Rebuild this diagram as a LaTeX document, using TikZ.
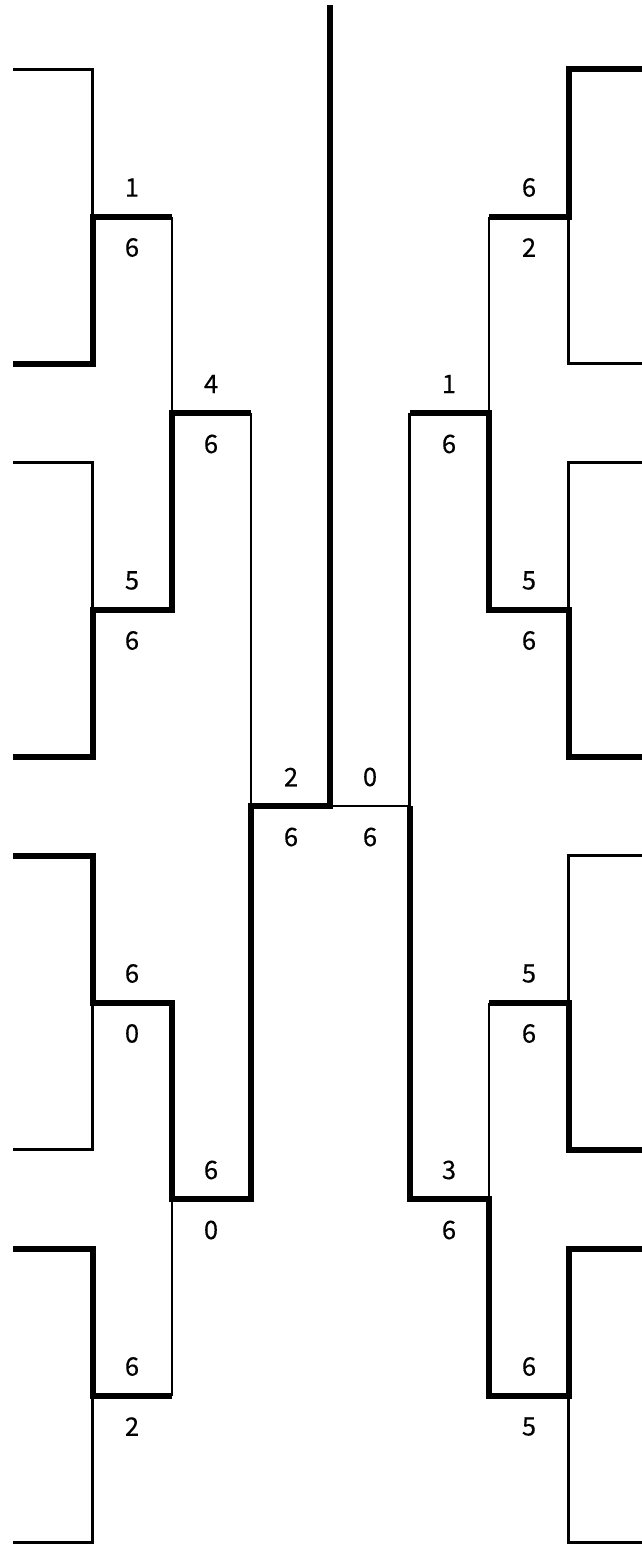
\documentclass[tikz,border=0pt]{standalone}
\usepackage{fontspec}
\newfontfamily\labfont[FakeBold=0.3]{Noto Sans CJK JP}
\begin{document}
\begin{tikzpicture}[x=1pt,y=-1pt,
  thinl/.style={line width=2.4pt},
  thickl/.style={line width=6pt},
  lbl/.style={font=\labfont\fontsize{25.5}{25.5}\selectfont, inner sep=0pt}]
\useasboundingbox (0,0) rectangle (642,1544);
% first-round coordinates
\foreach \i/\t in {1/69.5,2/462.5,3/855.5,4/1248.5} {
  \coordinate (L\i t) at (13,\t);
  \coordinate (L\i tc) at (92.5,\t);
  \coordinate (L\i j) at (92.5,\t+147);
  \coordinate (L\i r) at (172,\t+147);
  \coordinate (L\i bc) at (92.5,\t+294);
  \coordinate (L\i b) at (13,\t+294);
  \coordinate (R\i t) at (642,\t);
  \coordinate (R\i tc) at (568.5,\t);
  \coordinate (R\i j) at (568.5,\t+147);
  \coordinate (R\i r) at (489,\t+147);
  \coordinate (R\i bc) at (568.5,\t+294);
  \coordinate (R\i b) at (642,\t+294);
}
\coordinate (LUk) at (172,413);   \coordinate (LUr) at (251,413);
\coordinate (LLk) at (172,1199);  \coordinate (LLr) at (251,1199);
\coordinate (RUk) at (489,413);   \coordinate (RUr) at (409.5,413);
\coordinate (RLk) at (489,1199);  \coordinate (RLr) at (409.5,1199);
\coordinate (LF) at (251,806);
\coordinate (C) at (330,806);
\coordinate (Ctop) at (330,5);
\coordinate (RF) at (409.5,806);
% thin bracket lines
\foreach \s in {L,R} {
  \foreach \i in {1,2,3,4} {
    \draw[thinl] (\s\i t) -- (\s\i tc) -- (\s\i bc) -- (\s\i b);
    \draw[thinl] (\s\i j) -- (\s\i r);
  }
  \draw[thinl] (\s1r) -- (\s2r);
  \draw[thinl] (\s3r) -- (\s4r);
  \draw[thinl] (\s Ur) -- (\s Lr);
}
\draw[thinl] (LF) -- (RF);
% winners (thick)
\draw[thickl] (L1b) -- (L1bc) -- (L1j) -- (L1r);
\draw[thickl] (L2b) -- (L2bc) -- (L2j) -- (L2r) -- (LUk) -- (LUr);
\draw[thickl] (L3t) -- (L3tc) -- (L3j) -- (L3r) -- (LLk) -- (LLr) -- (LF) -- (C) -- (Ctop);
\draw[thickl] (L4t) -- (L4tc) -- (L4j) -- (L4r);
\draw[thickl] (R1t) -- (R1tc) -- (R1j) -- (R1r);
\draw[thickl] (R2b) -- (R2bc) -- (R2j) -- (R2r) -- (RUk) -- (RUr);
\draw[thickl] (R3b) -- (R3bc) -- (R3j) -- (R3r);
\draw[thickl] (R4t) -- (R4tc) -- (R4j) -- (R4r) -- (RLk) -- (RLr) -- (RF);
% scores
\foreach \n/\x/\y/\a/\b in {
  a/132/216.5/1/6, b/132/609.5/5/6, c/211/413/4/6, d/291/806/2/6,
  e/132/1002.5/6/0, f/211/1199/6/0, g/132/1395.5/6/2,
  h/529/216.5/6/2, i/529/609.5/5/6, j/449/413/1/6, k/370/806/0/6,
  l/529/1002.5/5/6, m/449/1199/3/6, n/529/1395.5/6/5} {
  \node[lbl] (\n up) at (\x,\y-29) {\a};
  \node[lbl] (\n dn) at (\x,\y+31) {\b};
}
\end{tikzpicture}
\end{document}
